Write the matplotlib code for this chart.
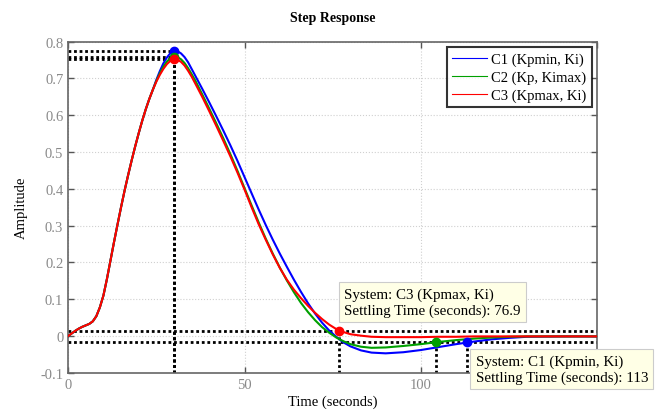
import matplotlib
matplotlib.use("Agg")
import matplotlib.pyplot as plt
from matplotlib.lines import Line2D

plt.rcParams['font.family'] = ['Liberation Serif', 'DejaVu Serif']

# step response samples (time in seconds)
t = [0, 1, 2, 3, 4, 5, 6, 7, 8, 9, 10, 11, 12, 13, 14, 15, 16, 17, 18, 19,
     20, 21, 22, 23, 24,
     25, 26, 27, 28, 29, 30, 31, 32, 33, 34, 35, 36, 38, 40, 42, 44, 46, 48,
     50, 52, 54, 56, 58, 60, 62, 64, 66, 68, 70, 72, 74, 76, 78, 80, 83, 86,
     90, 95, 100, 105, 110, 115, 120, 125, 130, 140, 150]

# the three loops share the same initial rise
rise = [0, 0.007, 0.014, 0.020, 0.025, 0.029, 0.033, 0.040, 0.054, 0.078,
        0.110, 0.155, 0.205, 0.255, 0.303, 0.350, 0.395, 0.437, 0.477, 0.515,
        0.551, 0.585, 0.616, 0.644, 0.669]

c1 = rise + [0.696, 0.720, 0.741, 0.757, 0.769, 0.775, 0.774, 0.768, 0.758,
             0.744, 0.726, 0.708, 0.672, 0.635, 0.597, 0.558, 0.518, 0.476,
             0.432, 0.388, 0.344, 0.302, 0.262, 0.224, 0.188, 0.153, 0.120,
             0.089, 0.061, 0.036, 0.015, -0.002, -0.017, -0.028, -0.039,
             -0.045, -0.047, -0.044, -0.038, -0.030, -0.022, -0.015, -0.009,
             -0.005, -0.002, -0.001, -0.001]
c2 = rise + [0.693, 0.714, 0.732, 0.746, 0.755, 0.759, 0.758, 0.752, 0.742,
             0.728, 0.712, 0.695, 0.657, 0.618, 0.578, 0.537, 0.494, 0.449,
             0.402, 0.355, 0.309, 0.265, 0.224, 0.186, 0.151, 0.119, 0.090,
             0.065, 0.043, 0.024, 0.009, -0.004, -0.014, -0.022, -0.029,
             -0.032, -0.031, -0.027, -0.022, -0.016, -0.011, -0.007, -0.004,
             -0.002, -0.001, -0.001, -0.001]
c3 = rise + [0.691, 0.710, 0.726, 0.739, 0.748, 0.752, 0.751, 0.745, 0.735,
             0.721, 0.705, 0.687, 0.650, 0.611, 0.571, 0.530, 0.488, 0.444,
             0.398, 0.350, 0.304, 0.262, 0.222, 0.185, 0.153, 0.126, 0.103,
             0.082, 0.063, 0.046, 0.031, 0.019, 0.011, 0.005, 0.001,
             -0.002, -0.003, -0.003, -0.003, -0.002, -0.002, -0.001, -0.001,
             -0.001, -0.001, -0.001, -0.001]

names = ['C1 (Kpmin, Ki)', 'C2 (Kp, Kimax)', 'C3 (Kpmax, Ki)']
colors = ['#0000ff', '#00a000', '#ff0000']
responses = [c1, c2, c3]

peak_time = [30, 30, 30]
peak_amp = [0.775, 0.759, 0.752]
settle_time = [113, 104.4, 76.9]
settle_amp = [-0.0166, -0.0166, 0.015]
band = [0.015, -0.017]

fig = plt.figure(figsize=(6.55, 4.14), dpi=100)
ax = fig.add_axes([0.104, 0.097, 0.808, 0.800])

for y, c in zip(responses, colors):
    ax.plot(t, y, color=c, lw=1.5, zorder=3)

dot = dict(color='black', ls=(0, (1, 1)), lw=2, zorder=2)
for b in band:
    ax.axhline(b, **dot)
for pt, pa in zip(peak_time, peak_amp):
    ax.plot([0, pt], [pa, pa], **dot)
    ax.plot([pt, pt], [-0.1, pa], **dot)
for st, sa in zip(settle_time, settle_amp):
    ax.plot([st, st], [-0.1, sa], **dot)

for i in range(3):
    ax.plot(peak_time[i], peak_amp[i], 'o', color=colors[i], ms=6, zorder=4)
    ax.plot(settle_time[i], settle_amp[i], 'o', color=colors[i], ms=6, zorder=4)

ax.set_xlim(0, 150)
ax.set_ylim(-0.1, 0.8)
ax.set_xticks([0, 50, 100, 150])
ax.set_yticks([-0.1, 0, 0.1, 0.2, 0.3, 0.4, 0.5, 0.6, 0.7, 0.8])
ax.set_yticklabels(['-0.1', '0', '0.1', '0.2', '0.3', '0.4', '0.5', '0.6', '0.7', '0.8'])
ax.tick_params(direction='in', top=True, right=True, length=4, width=1,
               colors='#555555', labelcolor='#8a8a8a', labelsize=10.5)
ax.grid(True, color='#d0d0d0', ls=':', lw=0.8)
for s in ax.spines.values():
    s.set_color('#666666')
    s.set_linewidth(1.2)

ax.set_title('Step Response', fontsize=10, fontweight='bold', pad=15)
ax.set_xlabel('Time (seconds)', fontsize=10.5, labelpad=3)
ax.set_ylabel('Amplitude', fontsize=10.5, labelpad=9)

handles = [Line2D([0], [0], color=c, lw=0.8) for c in colors]
leg = ax.legend(handles, names, loc='upper right', fontsize=10.5,
                fancybox=False, handlelength=2.4, handletextpad=0.3,
                borderpad=0.35, labelspacing=0.3, borderaxespad=0.4)
leg.get_frame().set_edgecolor('black')
leg.get_frame().set_linewidth(1.5)

tip = dict(boxstyle='square,pad=0.35', fc='#ffffe6', ec='#cccccc', lw=0.8)
ax.text(78.3, 0.132, 'System: C3 (Kpmax, Ki)\nSettling Time (seconds): 76.9',
        fontsize=10.8, va='top', ha='left', bbox=tip, zorder=10, linespacing=1.25)
ax.text(115.5, -0.049, 'System: C1 (Kpmin, Ki)\nSettling Time (seconds): 113',
        fontsize=10.8, va='top', ha='left', bbox=tip, zorder=10,
        linespacing=1.25, clip_on=False)

fig.savefig('out.png', dpi=100)
